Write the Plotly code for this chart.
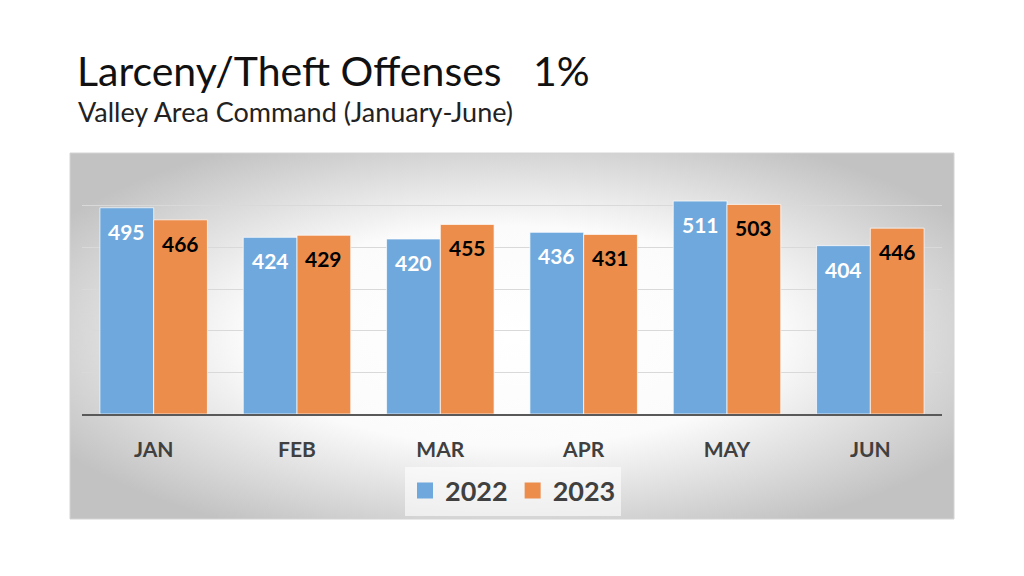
import base64
import plotly.graph_objects as go

months = ["JAN", "FEB", "MAR", "APR", "MAY", "JUN"]
series_names = ["2022", "2023"]
values_2022 = [495, 424, 420, 436, 511, 404]
values_2023 = [466, 429, 455, 431, 503, 446]
grid_vals = [100, 200, 300, 400, 500]

colors = ["#6FA8DC", "#EC8D4C"]
label_colors = ["#FFFFFF", "#000000"]

# page body has an 8px margin; screen coords -> figure coords
OFF = 8
W, H = 1024 - 2 * OFF, 576 - 2 * OFF
L, R, T, B = 82 - OFF, 942 - OFF, 164 - OFF, 414 - OFF
pw, ph = R - L, B - T

def px_x(x):
    return (x - OFF - L) / pw

def px_y(y):
    return (B - (y - OFF)) / ph

fig = go.Figure()
for name, vals, col in zip(series_names, [values_2022, values_2023], colors):
    fig.add_trace(go.Bar(
        name=name, x=months, y=vals, showlegend=False,
        marker=dict(color=col, line=dict(color="rgba(255,255,255,0.7)", width=1)),
        hoverinfo="x+y",
    ))
# legend entries with larger square swatches
for name, col in zip(series_names, colors):
    fig.add_trace(go.Scatter(
        name=name, x=[None], y=[None], mode="markers",
        marker=dict(symbol="square", size=16, color=col), showlegend=True,
    ))

# data labels inside end (annotations anchored to bar tops)
cat_w = pw / len(months)
bar_w = cat_w * 0.75 / 2
for i, (vals, lc) in enumerate(zip([values_2022, values_2023], label_colors)):
    shift = (i - 0.5) * bar_w
    for m, v in zip(months, vals):
        fig.add_annotation(
            x=m, y=v, xref="x", yref="y", text="<b>%d</b>" % v,
            showarrow=False, xshift=shift, yshift=-9, yanchor="top",
            font=dict(family="Lato", size=21, color=lc),
        )

svg = ('<svg xmlns="http://www.w3.org/2000/svg" width="884" height="366" viewBox="0 0 884 366" '
       'preserveAspectRatio="none"><defs><radialGradient id="g" cx="50%" cy="50%" r="60%">'
       '<stop offset="0" stop-color="#ffffff"/><stop offset="0.5" stop-color="#fbfbfb"/>'
       '<stop offset="1" stop-color="#c2c2c2"/></radialGradient></defs>'
       '<rect width="884" height="366" fill="url(#g)"/></svg>')
src = "data:image/svg+xml;base64," + base64.b64encode(svg.encode()).decode()

bx0, by0, bx1, by1 = 70, 153, 954, 519
fig.add_layout_image(dict(
    source=src, xref="paper", yref="paper",
    x=px_x(bx0), y=px_y(by0), sizex=(bx1 - bx0) / pw, sizey=(by1 - by0) / ph,
    xanchor="left", yanchor="top", sizing="stretch", layer="below",
))
fig.add_shape(type="rect", xref="paper", yref="paper",
              x0=px_x(bx0), x1=px_x(bx1), y0=px_y(by1), y1=px_y(by0),
              line=dict(color="#d4d4d4", width=1), fillcolor="rgba(0,0,0,0)", layer="below")

# title and subtitle
fig.add_annotation(x=px_x(75), y=px_y(70), xref="paper", yref="paper",
                   text="Larceny/Theft Offenses&nbsp;&nbsp;&nbsp;1%", showarrow=False,
                   xanchor="left", yanchor="middle",
                   font=dict(family="Lato", size=41, color="#111111"))
fig.add_annotation(x=px_x(76), y=px_y(111), xref="paper", yref="paper",
                   text="Valley Area Command (January-June)", showarrow=False,
                   xanchor="left", yanchor="middle",
                   font=dict(family="Lato", size=27, color="#222222"))

fig.update_layout(
    width=W, height=H,
    margin=dict(l=L, r=W - R, t=T, b=H - B, pad=0),
    paper_bgcolor="white", plot_bgcolor="rgba(0,0,0,0)",
    barmode="group", bargap=0.25, bargroupgap=0,
    showlegend=True,
    legend=dict(orientation="h", x=px_x(513), xanchor="center", y=px_y(491), yanchor="middle",
                bgcolor="rgba(255,255,255,0.6)",
                font=dict(family="Lato", size=27, color="#404040", weight="bold"),
                traceorder="normal", borderwidth=0, itemwidth=30),
    font=dict(family="Lato"),
)
fig.update_xaxes(showline=True, linecolor="#595959", linewidth=2, ticks="",
                 tickfont=dict(family="Lato", size=21, color="#404040", weight="bold"),
                 ticklabelstandoff=16, showgrid=False)
fig.update_yaxes(range=[0, 600], tickvals=grid_vals, showticklabels=False, showgrid=True,
                 gridcolor="#d9d9d9", gridwidth=1, zeroline=False, showline=False)

fig.write_html("out.html")
